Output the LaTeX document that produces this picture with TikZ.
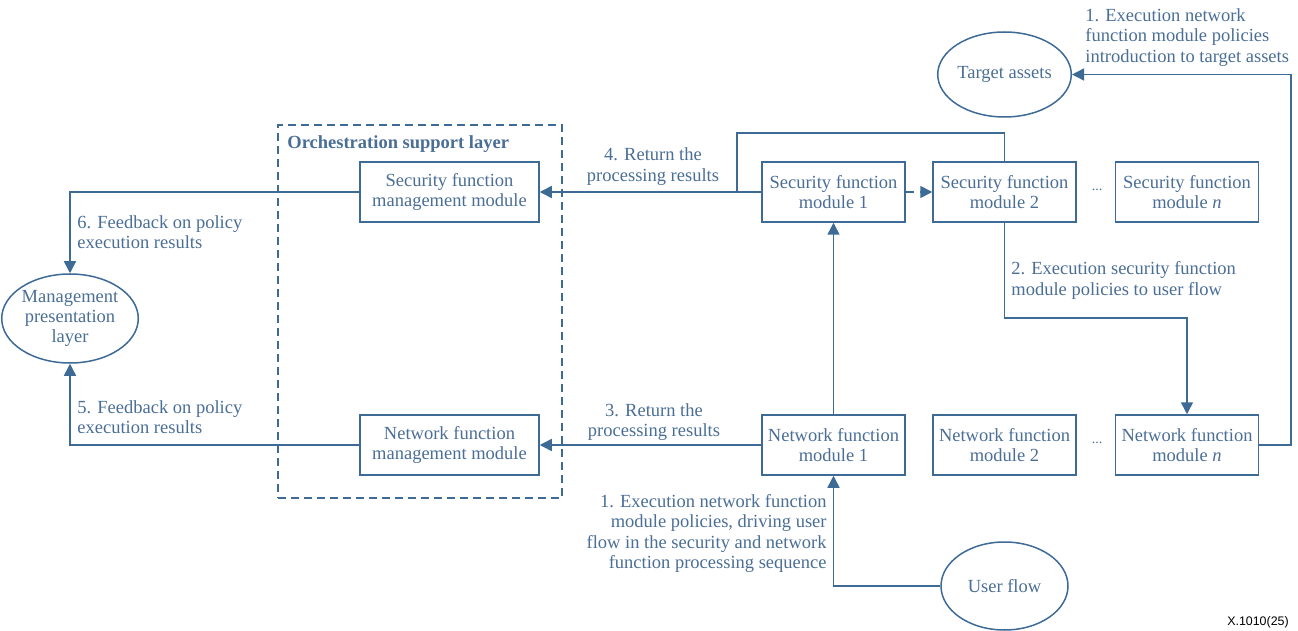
\documentclass[tikz,border=0pt]{standalone}
\usepackage{fontspec}
\setmainfont{Liberation Serif}
\newfontfamily\figsans{Liberation Sans}
\usetikzlibrary{arrows.meta,shapes.geometric}
\definecolor{linecol}{RGB}{62,106,150}
\definecolor{textcol}{RGB}{74,110,150}
\begin{document}
\begin{tikzpicture}[x=0.5pt,y=-0.5pt,
  every node/.style={text=textcol,font=\fontsize{9.25}{10.2}\selectfont},
  conn/.style={draw=linecol,line width=0.75pt},
  arr/.style={conn,-{Triangle[length=6pt,width=6pt]}},
  modbox/.style={draw=linecol,line width=0.75pt,minimum width=71.5pt,minimum height=30pt,inner sep=0pt,align=center},
  mgmtbox/.style={modbox,minimum width=89.5pt},
  oval/.style={draw=linecol,line width=0.75pt,ellipse,minimum width=63.5pt,minimum height=43pt,inner sep=0pt,align=center},
  lbl/.style={inner sep=0pt}]
\useasboundingbox (0,0) rectangle (1298,631);

% orchestration support layer
\node (orch) [draw=linecol,line width=0.75pt,dash pattern=on 4pt off 2.5pt,minimum width=142pt,minimum height=186.5pt,inner sep=0pt] at (420,311.5) {};
\node (orchtitle) [lbl,anchor=west,font=\fontsize{9.25}{10.2}\selectfont\bfseries] at (287,144) {Orchestration support layer};
\node (sfmm) [mgmtbox] at (449.5,192) {Security function\\management module};
\node (nfmm) [mgmtbox] at (449.5,445) {Network function\\management module};

% management presentation layer
\node (mgmt) [oval,minimum width=64pt,minimum height=44.5pt] at (70,318.5) {Management\\presentation\\layer};

% security and network function modules
\node (sf1) [modbox] at (833.5,192) {Security function\\module 1};
\node (sf2) [modbox] at (1004.5,192) {Security function\\module 2};
\node (sfn) [modbox] at (1187,192) {Security function\\module \textit{n}};
\node (nf1) [modbox] at (833.5,445) {Network function\\module 1};
\node (nf2) [modbox] at (1004.5,445) {Network function\\module 2};
\node (nfn) [modbox] at (1187,445) {Network function\\module \textit{n}};
\node (dots1) [lbl,font=\fontsize{7}{8}\selectfont] at (1097,190) {...};
\node (dots2) [lbl,font=\fontsize{7}{8}\selectfont] at (1097,443) {...};

\node (target) [oval,minimum height=42.5pt] at (1004.5,74.5) {Target assets};
\node (user) [oval,minimum height=44pt] at (1004.5,586) {User flow};

% bend points
\coordinate (loopl) at (737,133);
\coordinate (bend2) at (1004.5,318);
\coordinate (tright) at (1291,74.5);

% connectors
\draw[arr] (sfmm.west) -| (mgmt.north);
\draw[arr] (nfmm.west) -| (mgmt.south);
\draw[arr] (sf1.west) -- (sfmm.east);
\draw[conn] (sf2.north) |- (loopl) -- (loopl |- sf1.west);
\draw[arr,dash pattern=on 4pt off 3pt] (sf1.east) -- (sf2.west);
\draw[arr] (nf1.north) -- (sf1.south);
\draw[arr] (nf1.west) -- (nfmm.east);
\draw[arr] (user.west) -| (nf1.south);
\draw[arr] (sf2.south) -- (bend2) -| (nfn.north);
\draw[arr] (nfn.east) -| (tright) -- (target.east);

% labels
\node (l6) [lbl,anchor=west,align=left] at (77,232) {6. Feedback on policy\\execution results};
\node (l5) [lbl,anchor=west,align=left] at (77,417) {5. Feedback on policy\\execution results};
\node (l4) [lbl,align=center] at (653,166.5) {4. Return the\\processing results};
\node (l3) [lbl,align=center] at (654,422) {3. Return the\\processing results};
\node (l2) [lbl,anchor=west,align=left] at (1011,280.5) {2. Execution security function\\module policies to user flow};
\node (l1t) [lbl,anchor=west,align=left] at (1085,37.5) {1. Execution network\\function module policies\\introduction to target assets};
\node (l1b) [lbl,anchor=east,align=right] at (827,533.5) {1. Execution network function\\module policies, driving user\\flow in the security and network\\function processing sequence};

\node (figid) [lbl,text=black,font=\figsans\fontsize{6.2}{7}\selectfont] at (1258,622) {X.1010(25)};
\end{tikzpicture}
\end{document}
